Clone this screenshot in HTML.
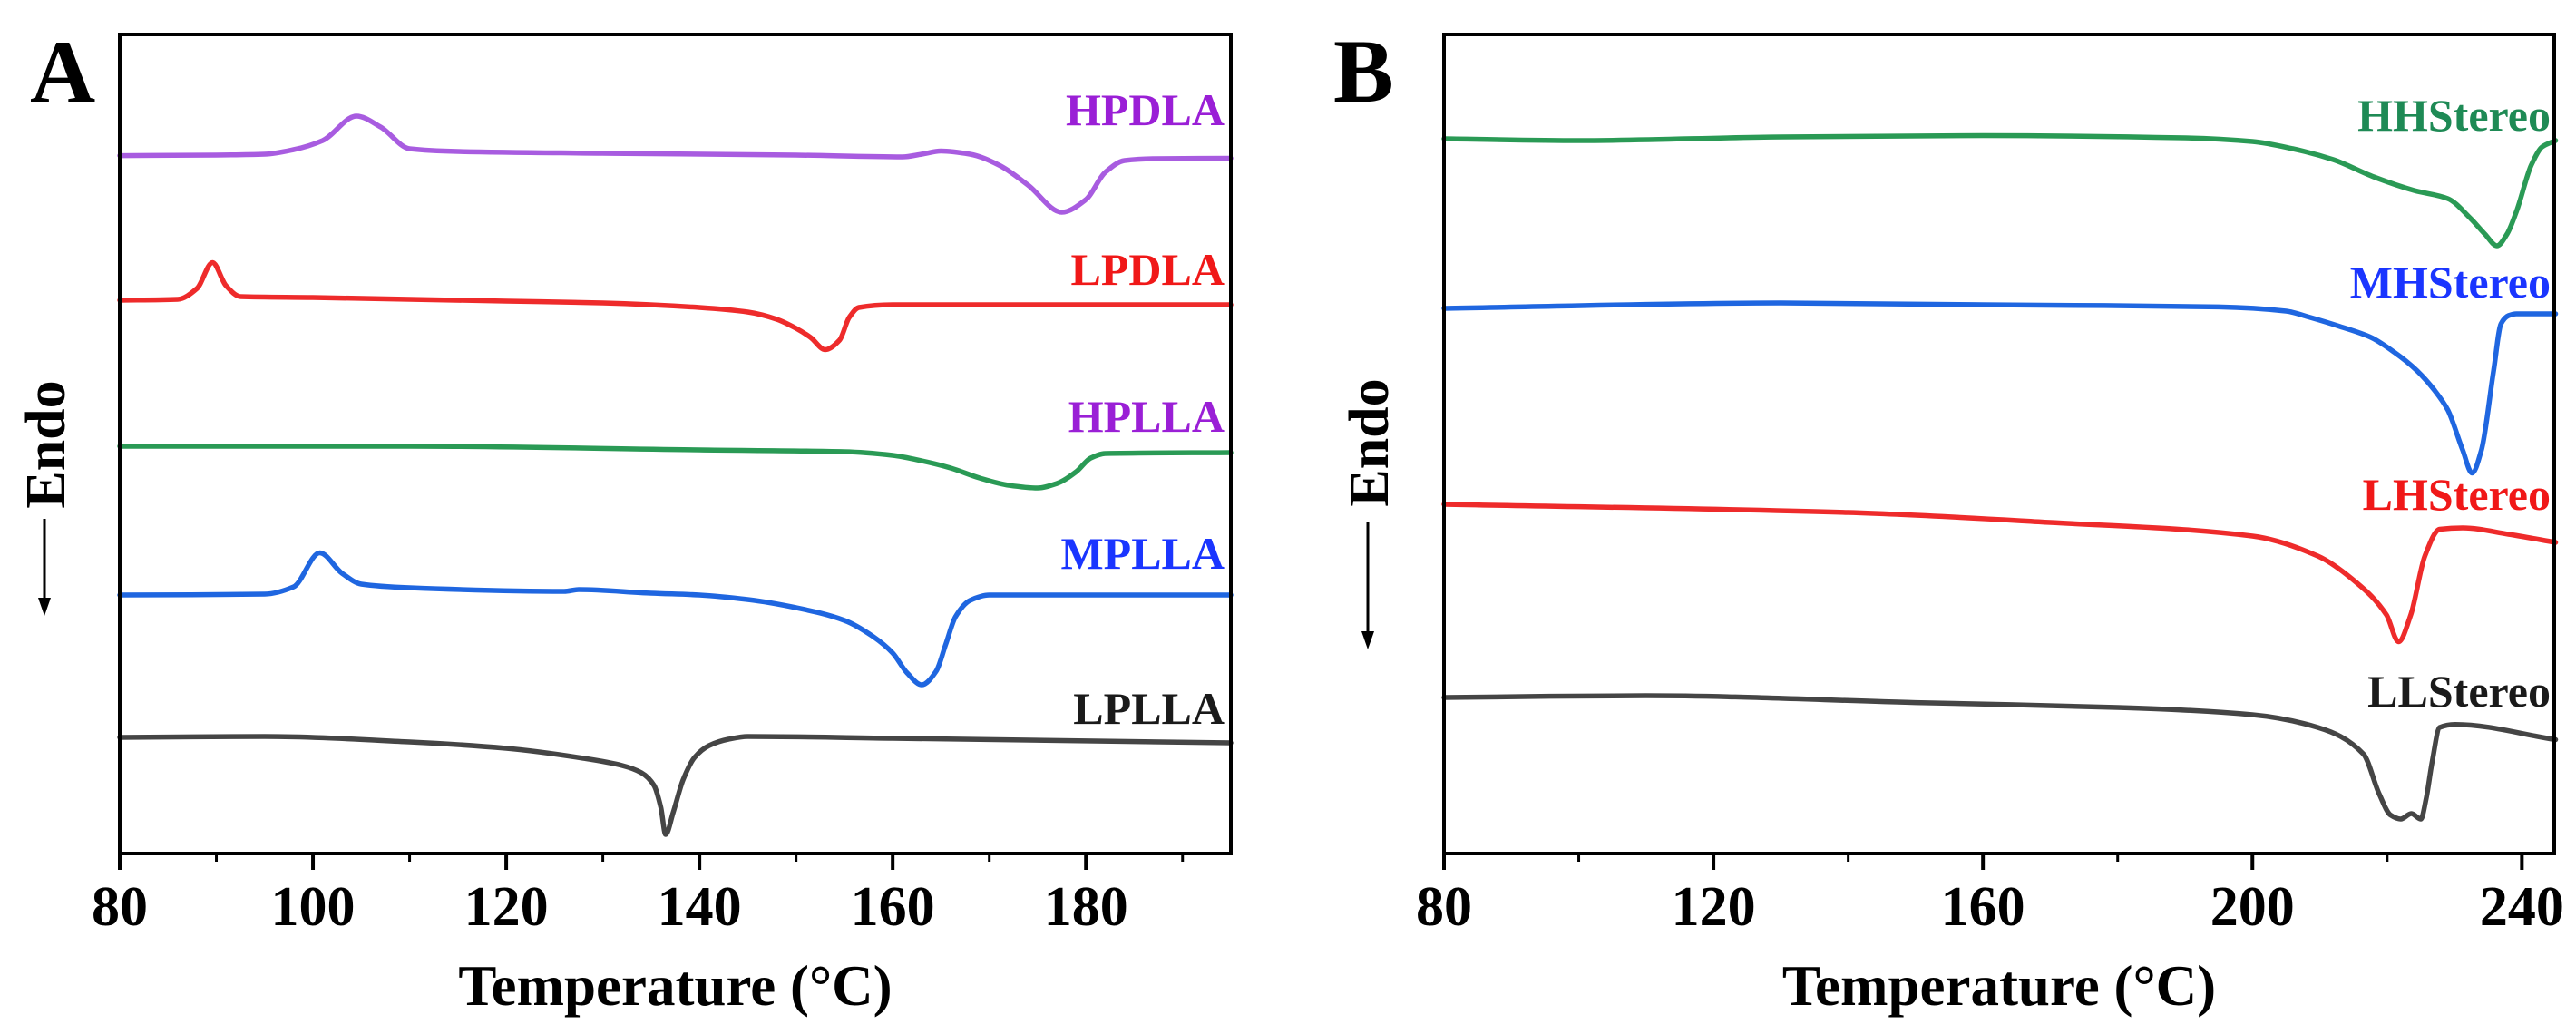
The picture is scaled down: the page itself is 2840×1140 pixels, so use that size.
<!DOCTYPE html>
<html><head><meta charset="utf-8"><style>
html,body{margin:0;padding:0;background:#fff;}
svg{display:block;}
text{font-family:"Liberation Serif",serif;font-weight:bold;}
</style></head>
<body>
<svg id="fig" width="2840" height="1140" viewBox="0 0 2840 1140" xmlns="http://www.w3.org/2000/svg">
<rect x="0" y="0" width="2840" height="1140" fill="#fff"/>
<text x="33" y="113" font-size="100">A</text>
<text x="1470" y="112" font-size="100">B</text>
<g id="panelA"></g>
<g id="panelB"></g>
</svg>
<script>
// ---- Panel A data (temperature °C, signal in a.u., endo down) ----
const seriesNamesA = ["HPDLA","LPDLA","HPLLA","MPLLA","LPLLA"];
const hpdlaT = [80,90,95,98,101,104.5,107,110,115,130,150,161,163,165,168,171,174,177.5,180,182,184,187,195];
const hpdlaV = [171.6,171,170,165,155,128,140,164,167,169,171,173,170,166.5,170,182,204,234,220,190,177,175,174.5];
const lpdlaT = [80,86,88,89.6,91,92.5,100,120,130,140,145,148,150,151.5,153,154.5,155.5,156.5,160,195];
const lpdlaV = [331,330,318,289.5,315,327,328,332,334,339,344,352,362,372,385.5,375,350,339,336,336];
const hpllaT = [80,110,140,155,160,163,166,169,172,175,177,179,180.5,182,195];
const hpllaV = [492,492,496,498,502,508,516,527,535,538,533,520,505,500,499];
const mpllaT = [80,95,98,100.7,103,105,110,126,127.5,135,140,145,150,155,158,160,161.5,163,164.5,165.5,166.5,168,170,195];
const mpllaV = [656,655,647,609.5,632,644,648,652,650,654,656,661,670,684,702,720,742,755,740,710,680,662,656,656];
const lpllaT = [80,95,110,120,128,132,134,135.3,136,136.5,137.3,138.3,139.5,141,143,145,160,195];
const lpllaV = [813,812,818,825,836,844,852,866,890,920,895,860,835,822,815,812,814,819];
const ticksA = [80,100,120,140,160,180];
const minorTicksA = [90,110,130,150,170,190];

// ---- Panel B data ----
const seriesNamesB = ["HHStereo","MHStereo","LHStereo","LLStereo"];
const hhT = [80,100,130,160,190,200,206,212,218,224,229,232.4,234.5,236.3,237.8,239.2,241.4,243,245];
const hhV = [153,155,151,149.5,152,156,164,176,195,210,219,241,258,271,258,233,182,162,155];
const mhT = [80,130,160,195,205,208.6,213,217.6,221,224.4,227,229,231.2,232.6,234,235.8,236.9,238,239.2,245];
const mhV = [340,334,336,338.4,343,350,360,372,388,408.5,430,452,496,521.5,496,408.5,357,348,346,346];
const lhT = [80,140,170,200,209.7,215.4,219.9,221.7,223.5,225.6,227.8,231.2,238,245];
const lhV = [556,565,576,591,613,642,678,707.5,678,613,583.5,582,589,598];
const llT = [80,110,150,180,200,209.7,216.5,218.8,220.5,222,223.6,225,225.8,226.7,227.8,230.1,245];
const llV = [769,767,774.6,780,788,802,831.5,875,898.6,903,897,903,880,839,802,798.7,815.5];
const ticksB = [80,120,160,200,240];
const minorTicksB = [100,140,180,220];

const NS = "http://www.w3.org/2000/svg";
function mk(tag, attrs, parent){
  const e = document.createElementNS(NS, tag);
  for (const k in attrs) e.setAttribute(k, attrs[k]);
  parent.appendChild(e);
  return e;
}
function monotonePath(xs, ys){
  const n = xs.length;
  const d = [], m = new Array(n);
  for (let i=0;i<n-1;i++) d.push((ys[i+1]-ys[i])/(xs[i+1]-xs[i]));
  m[0]=d[0]; m[n-1]=d[n-2];
  for (let i=1;i<n-1;i++){
    if (d[i-1]*d[i] <= 0) m[i]=0;
    else { const w1=2*(xs[i+1]-xs[i])+(xs[i]-xs[i-1]), w2=(xs[i+1]-xs[i])+2*(xs[i]-xs[i-1]);
      m[i]=(w1+w2)/(w1/d[i-1]+w2/d[i]); }
  }
  let p = "M"+xs[0].toFixed(1)+","+ys[0].toFixed(1);
  for (let i=0;i<n-1;i++){
    const h = xs[i+1]-xs[i];
    p += " C"+(xs[i]+h/3).toFixed(1)+","+(ys[i]+m[i]*h/3).toFixed(1)+" "+(xs[i+1]-h/3).toFixed(1)+","+(ys[i+1]-m[i+1]*h/3).toFixed(1)+" "+xs[i+1].toFixed(1)+","+ys[i+1].toFixed(1);
  }
  return p;
}
function drawPanel(g, cfg){
  const L=cfg.left, R=cfg.right, T=38, B=941;
  const xScale = v => L + (v-cfg.xmin)/(cfg.xmax-cfg.xmin)*(R-L);
  const yScale = v => T + (v-38)/(941-38)*(B-T);
  cfg.series.forEach(s=>{
    const xs = s.t.map(xScale), ys = s.v.map(yScale);
    const p = mk("path",{d:monotonePath(xs,ys),fill:"none",stroke:s.color,"stroke-width":5.5,"stroke-linejoin":"round","stroke-linecap":"round"},g);
    
    
    const lb = mk("text",{x:cfg.labelX,y:s.ly,"font-size":50,"text-anchor":"end",fill:s.lcolor},g);
    lb.textContent = s.name;
    
    
  });
  const fr = mk("rect",{x:L,y:T,width:R-L,height:B-T,fill:"none",stroke:"#000","stroke-width":4},g);
  
  
  cfg.ticks.forEach(t=>{
    const x = xScale(t);
    const tk = mk("line",{x1:x,x2:x,y1:B,y2:B+18,stroke:"#000","stroke-width":4},g);
    
    
    const tl = mk("text",{x:x,y:1020,"font-size":62,"text-anchor":"middle",fill:"#000"},g);
    tl.textContent = t;
    
    
  });
  cfg.minor.forEach(t=>{
    const x = xScale(t);
    const tk = mk("line",{x1:x,x2:x,y1:B,y2:B+9,stroke:"#000","stroke-width":3},g);
    
    
  });
  const xt = mk("text",{x:(L+R)/2,y:1108,"font-size":63,"text-anchor":"middle",fill:"#000"},g);
  xt.textContent = "Temperature (\u00B0C)";
  
  
  const ex = cfg.endoX;
  const et = mk("text",{x:0,y:0,"font-size":62,"text-anchor":"middle",fill:"#000",transform:"translate("+(ex+22)+","+cfg.endoY+") rotate(-90)"},g);
  et.textContent = "Endo";
  
  
  const ar = mk("line",{x1:ex,x2:ex,y1:cfg.arrowTop,y2:cfg.arrowTip-16,stroke:"#000","stroke-width":3},g);
  
  
  const ah = mk("polygon",{points:(ex-7)+","+(cfg.arrowTip-20)+" "+(ex+7)+","+(cfg.arrowTip-20)+" "+ex+","+cfg.arrowTip,fill:"#000"},g);
  
  
}
drawPanel(document.getElementById("panelA"),{
  left:132,right:1357,xmin:80,xmax:195,labelX:1350,ticks:ticksA,minor:minorTicksA,
  endoX:49,endoY:490,arrowTop:572,arrowTip:679,
  series:[
    {name:seriesNamesA[0],t:hpdlaT,v:hpdlaV,color:"#a85ce0",lcolor:"#9a1fd6",ly:138},
    {name:seriesNamesA[1],t:lpdlaT,v:lpdlaV,color:"#ee2b2b",lcolor:"#f01818",ly:314},
    {name:seriesNamesA[2],t:hpllaT,v:hpllaV,color:"#2a9a55",lcolor:"#9a1fd6",ly:476},
    {name:seriesNamesA[3],t:mpllaT,v:mpllaV,color:"#1f66e0",lcolor:"#1a35ff",ly:627},
    {name:seriesNamesA[4],t:lpllaT,v:lpllaV,color:"#454545",lcolor:"#1a1a1a",ly:798}
  ]
});
drawPanel(document.getElementById("panelB"),{
  left:1592,right:2816,xmin:80,xmax:244.8,labelX:2812,ticks:ticksB,minor:minorTicksB,
  endoX:1508,endoY:488,arrowTop:575,arrowTip:716,
  series:[
    {name:seriesNamesB[0],t:hhT,v:hhV,color:"#2a9a55",lcolor:"#1e8a55",ly:144},
    {name:seriesNamesB[1],t:mhT,v:mhV,color:"#1f66e0",lcolor:"#1a35ff",ly:328},
    {name:seriesNamesB[2],t:lhT,v:lhV,color:"#ee2b2b",lcolor:"#f01818",ly:562},
    {name:seriesNamesB[3],t:llT,v:llV,color:"#454545",lcolor:"#1a1a1a",ly:779}
  ]
});
</script>
</body></html>
